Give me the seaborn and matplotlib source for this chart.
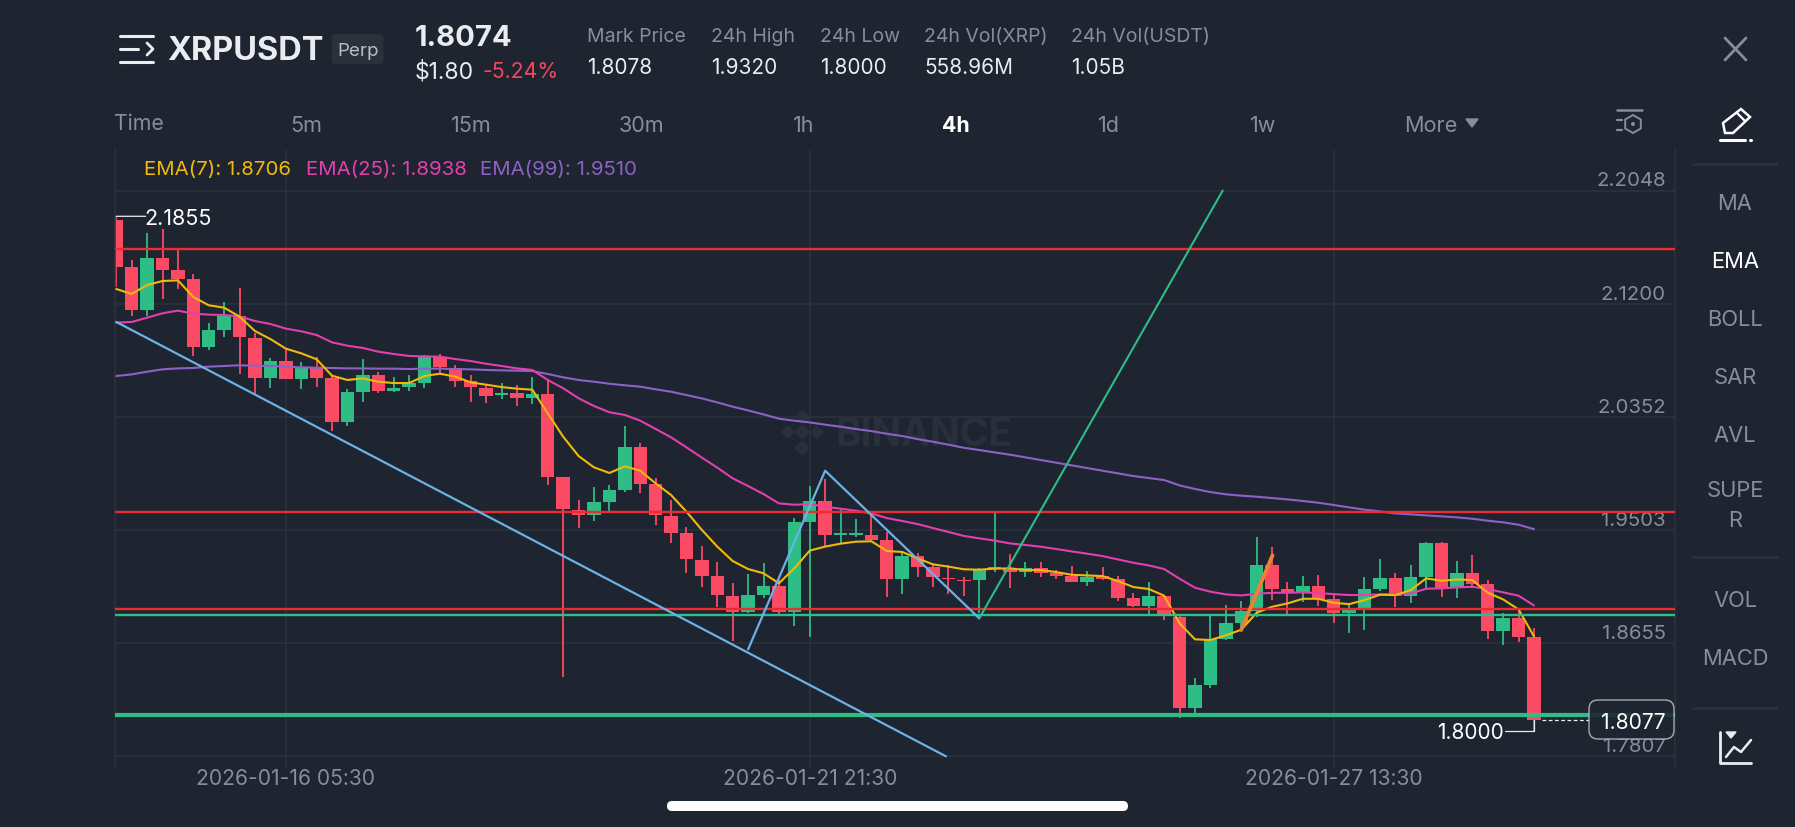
import pandas as pd
import matplotlib
matplotlib.use("Agg")
import matplotlib.pyplot as plt
import seaborn as sns
from matplotlib.lines import Line2D
from matplotlib.patches import FancyBboxPatch, Polygon, Circle, RegularPolygon
from matplotlib.transforms import Affine2D, blended_transform_factory

W, H = 1795, 828

# candle values
opens = [2.1827, 2.1475, 2.1150, 2.1545, 2.1452, 2.1382, 2.0873, 2.1000, 2.1105, 2.0945,
         2.0643, 2.0770, 2.0636, 2.0725, 2.0641, 2.0311, 2.0541, 2.0665, 2.0548, 2.0573,
         2.0608, 2.0798, 2.0718, 2.0618, 2.0570, 2.0513, 2.0533, 2.0496, 2.0526, 1.9901,
         1.9654, 1.9619, 1.9716, 1.9803, 2.0123, 1.9848, 1.9611, 1.9479, 1.9279, 1.9161,
         1.9009, 1.8891, 1.9016, 1.9084, 1.8891, 1.9566, 1.9723, 1.9466, 1.9466, 1.9466,
         1.9426, 1.9134, 1.9311, 1.9224, 1.9146, 1.9129, 1.9129, 1.9214, 1.9221, 1.9188,
         1.9218, 1.9178, 1.9158, 1.9116, 1.9161, 1.9133, 1.8993, 1.8936, 1.9008, 1.8853,
         1.8166, 1.8341, 1.8684, 1.8804, 1.8898, 1.9243, 1.9063, 1.9041, 1.9083, 1.8983,
         1.8878, 1.8918, 1.9061, 1.9146, 1.9008, 1.9148, 1.9406, 1.9078, 1.9183, 1.9101,
         1.8746, 1.8843, 1.8698]
closes = [2.1477, 2.1150, 2.1545, 2.1452, 2.1385, 2.0875, 2.1000, 2.1105, 2.0950, 2.0643,
          2.0770, 2.0636, 2.0725, 2.0643, 2.0311, 2.0536, 2.0663, 2.0548, 2.0568, 2.0603,
          2.0798, 2.0723, 2.0623, 2.0573, 2.0510, 2.0533, 2.0496, 2.0525, 1.9903, 1.9659,
          1.9619, 1.9713, 1.9801, 2.0123, 1.9851, 1.9616, 1.9484, 1.9284, 1.9161, 1.9014,
          1.8891, 1.9014, 1.9084, 1.8891, 1.9566, 1.9721, 1.9466, 1.9479, 1.9479, 1.9429,
          1.9134, 1.9311, 1.9224, 1.9151, 1.9136, 1.9119, 1.9204, 1.9224, 1.9188, 1.9221,
          1.9178, 1.9158, 1.9116, 1.9151, 1.9133, 1.8993, 1.8936, 1.9008, 1.8868, 1.8166,
          1.8339, 1.8684, 1.8804, 1.8898, 1.9243, 1.9063, 1.9041, 1.9083, 1.8983, 1.8878,
          1.8916, 1.9061, 1.9143, 1.9011, 1.9151, 1.9406, 1.9066, 1.9183, 1.9098, 1.8746,
          1.8843, 1.8701, 1.8079]
highs = [2.1855, 2.1527, 2.1727, 2.1757, 2.1612, 2.1422, 2.1053, 2.1215, 2.1315, 2.0983,
         2.0793, 2.0860, 2.0763, 2.0798, 2.0665, 2.0558, 2.0785, 2.0688, 2.0648, 2.0663,
         2.0818, 2.0823, 2.0740, 2.0665, 2.0588, 2.0603, 2.0593, 2.0650, 2.0633, 1.9903,
         1.9729, 1.9828, 1.9841, 2.0286, 2.0158, 1.9896, 1.9729, 1.9526, 1.9386, 1.9266,
         1.9104, 1.9174, 1.9256, 1.9129, 1.9596, 1.9833, 1.9886, 1.9654, 1.9586, 1.9616,
         1.9491, 1.9329, 1.9329, 1.9249, 1.9241, 1.9149, 1.9221, 1.9646, 1.9323, 1.9261,
         1.9266, 1.9203, 1.9233, 1.9198, 1.9223, 1.9158, 1.9028, 1.9111, 1.9016, 1.8868,
         1.8394, 1.8873, 1.8938, 1.8971, 1.9453, 1.9376, 1.9116, 1.9158, 1.9166, 1.9016,
         1.8941, 1.9151, 1.9283, 1.9181, 1.9238, 1.9416, 1.9413, 1.9271, 1.9316, 1.9128,
         1.8881, 1.8903, 1.8766]
lows = [2.1327, 2.1110, 2.1110, 2.1235, 2.1307, 2.0807, 2.0853, 2.0948, 2.0671, 2.0521,
        2.0565, 2.0636, 2.0563, 2.0573, 2.0248, 2.0281, 2.0466, 2.0528, 2.0538, 2.0543,
        2.0568, 2.0678, 2.0578, 2.0466, 2.0458, 2.0488, 2.0433, 2.0448, 1.9841, 1.8404,
        1.9516, 1.9574, 1.9641, 1.9791, 1.9783, 1.9541, 1.9404, 1.9184, 1.9074, 1.8929,
        1.8674, 1.8879, 1.8994, 1.8866, 1.8786, 1.8699, 1.9379, 1.9409, 1.9454, 1.9421,
        1.8999, 1.9024, 1.9149, 1.9079, 1.9021, 1.9009, 1.8879, 1.9191, 1.9066, 1.9148,
        1.9153, 1.9133, 1.9116, 1.9086, 1.9128, 1.8971, 1.8926, 1.8859, 1.8826, 1.8094,
        1.8129, 1.8316, 1.8679, 1.8754, 1.8853, 1.8978, 1.8873, 1.8966, 1.8933, 1.8803,
        1.8729, 1.8754, 1.9046, 1.8928, 1.8953, 1.9066, 1.8998, 1.8991, 1.9066, 1.8686,
        1.8641, 1.8661, 1.8000]

ema7 = [2.1310, 2.1273, 2.1340, 2.1370, 2.1375, 2.1250, 2.1188, 2.1170, 2.1103, 2.0995,
        2.0935, 2.0863, 2.0828, 2.0783, 2.0660, 2.0628, 2.0640, 2.0615, 2.0605, 2.0605,
        2.0658, 2.0675, 2.0653, 2.0610, 2.0593, 2.0575, 2.0563, 2.0555, 2.0378, 2.0203,
        2.0058, 1.9973, 1.9931, 1.9981, 1.9948, 1.9853, 1.9766, 1.9641, 1.9504, 1.9379,
        1.9271, 1.9211, 1.9179, 1.9104, 1.9216, 1.9349, 1.9379, 1.9401, 1.9416, 1.9419,
        1.9346, 1.9339, 1.9291, 1.9246, 1.9229, 1.9209, 1.9206, 1.9214, 1.9216, 1.9203,
        1.9203, 1.9188, 1.9168, 1.9163, 1.9158, 1.9121, 1.9076, 1.9061, 1.9011, 1.8804,
        1.8684, 1.8679, 1.8714, 1.8756, 1.8883, 1.8928, 1.8953, 1.8988, 1.8988, 1.8958,
        1.8948, 1.8978, 1.9018, 1.9016, 1.9053, 1.9141, 1.9123, 1.9133, 1.9128, 1.9033,
        1.8983, 1.8908, 1.8706]
ema25 = [2.1058, 2.1063, 2.1095, 2.1128, 2.1148, 2.1125, 2.1118, 2.1115, 2.1105, 2.1070,
         2.1048, 2.1013, 2.0993, 2.0965, 2.0910, 2.0885, 2.0868, 2.0840, 2.0823, 2.0808,
         2.0805, 2.0803, 2.0785, 2.0770, 2.0750, 2.0733, 2.0715, 2.0703, 2.0628, 2.0566,
         2.0491, 2.0433, 2.0386, 2.0366, 2.0323, 2.0261, 2.0198, 2.0123, 2.0046, 1.9971,
         1.9891, 1.9833, 1.9773, 1.9703, 1.9693, 1.9698, 1.9678, 1.9663, 1.9648, 1.9628,
         1.9593, 1.9571, 1.9548, 1.9518, 1.9489, 1.9459, 1.9441, 1.9424, 1.9403, 1.9391,
         1.9378, 1.9361, 1.9343, 1.9326, 1.9308, 1.9283, 1.9258, 1.9238, 1.9211, 1.9138,
         1.9071, 1.9041, 1.9021, 1.9013, 1.9026, 1.9033, 1.9033, 1.9036, 1.9031, 1.9023,
         1.9016, 1.9016, 1.9021, 1.9023, 1.9028, 1.9063, 1.9066, 1.9073, 1.9078, 1.9061,
         1.9036, 1.9011, 1.8938]
ema99 = [2.0658, 2.0670, 2.0690, 2.0708, 2.0715, 2.0718, 2.0728, 2.0733, 2.0738, 2.0735,
         2.0733, 2.0728, 2.0723, 2.0720, 2.0718, 2.0715, 2.0715, 2.0713, 2.0713, 2.0710,
         2.0713, 2.0713, 2.0710, 2.0708, 2.0703, 2.0700, 2.0698, 2.0695, 2.0673, 2.0648,
         2.0628, 2.0615, 2.0600, 2.0588, 2.0578, 2.0558, 2.0540, 2.0515, 2.0490, 2.0460,
         2.0428, 2.0400, 2.0370, 2.0338, 2.0323, 2.0310, 2.0293, 2.0278, 2.0260, 2.0245,
         2.0225, 2.0208, 2.0185, 2.0165, 2.0143, 2.0120, 2.0103, 2.0085, 2.0068, 2.0048,
         2.0028, 2.0008, 1.9988, 1.9968, 1.9948, 1.9928, 1.9908, 1.9893, 1.9878, 1.9838,
         1.9811, 1.9788, 1.9771, 1.9761, 1.9753, 1.9743, 1.9733, 1.9721, 1.9708, 1.9691,
         1.9673, 1.9656, 1.9643, 1.9628, 1.9621, 1.9613, 1.9606, 1.9598, 1.9588, 1.9573,
         1.9561, 1.9543, 1.9510]

price_ticks = [2.2048, 2.1200, 2.0352, 1.9503, 1.8655, 1.7807]
price_labels = ["2.2048", "2.1200", "2.0352", "1.9503", "1.8655", "1.7807"]
time_ticks = [11, 45, 79]
time_labels = ["2026-01-16 05:30", "2026-01-21 21:30", "2026-01-27 13:30"]

# levels and trend lines somebody drew on the chart
red_levels = [2.1612, 1.9636, 1.8909]
green_level = 1.8864
green_level_thick = 1.8119
blue_long_x, blue_long_y = [0, 53.84], [2.1063, 1.7807]
blue_zig_x, blue_zig_y = [41, 46, 56], [1.8609, 1.9948, 1.8841]
green_trend_x, green_trend_y = [56, 71.8], [1.8841, 2.2048]
orange_x, orange_y = [73, 75.03], [1.8754, 1.9313]

BG = "#1e2530"
GRID = "#2c333e"
GRAY = "#848e9c"
SOFT = "#eaecef"
UP = "#2ebd85"
DOWN = "#fb4a63"
RED_LINE = "#ee2b30"
BLUE = "#6db2e6"

sns.set_theme(style="dark", rc={"axes.facecolor": BG, "figure.facecolor": BG})
plt.rcParams["font.family"] = ["Inter", "DejaVu Sans"]

df = pd.DataFrame({"idx": range(len(opens)), "open": opens, "close": closes, "high": highs, "low": lows,
                   "ema7": ema7, "ema25": ema25, "ema99": ema99})
df["body_low"] = df[["open", "close"]].min(axis=1)
df["body_h"] = (df["open"] - df["close"]).abs()
df["color"] = [UP if c >= o else DOWN for o, c in zip(df["open"], df["close"])]

fig = plt.figure(figsize=(W / 100, H / 100), dpi=100)
ax = fig.add_axes([115 / W, 1 - 770 / H, 1560 / W, 619 / H])
ax.set_xlim(-0.084, 101.15)
ax.set_ylim(1.7712, 2.2352)

# everything outside the plot is placed in screen pixels
ui = Affine2D().scale(1 / W, -1 / H).translate(0, 1) + fig.transFigure


def label(x, y, s, color=GRAY, size=14.7, ha="left", weight="normal"):
    # Inter sits a little high when centred, so push it down
    fig.text(x, y + 2.3, s, color=color, fontsize=size, ha=ha, va="center", fontweight=weight, transform=ui, zorder=20)


def stroke(xs, ys, color=GRAY, lw=1.5, **kw):
    fig.add_artist(Line2D(xs, ys, color=color, lw=lw, transform=ui, solid_capstyle="round", zorder=20, **kw))


# grid
ax.set_yticks(price_ticks)
ax.set_xticks(time_ticks)
ax.set_xticklabels(time_labels, color=GRAY, fontsize=15.1)
ax.set_yticklabels([])
ax.tick_params(axis="both", length=0)
ax.tick_params(axis="x", pad=-1)
ax.grid(True, color=GRID, lw=1.1)
ax.set_axisbelow(True)
for side in ["top", "bottom"]:
    ax.spines[side].set_visible(False)
for side in ["left", "right"]:
    ax.spines[side].set_color(GRID)
    ax.spines[side].set_linewidth(1.1)

# watermark under the candles
wm = "#2a303b"
for cx, cy, r in [(802.5, 433, 7), (788, 433, 6), (817, 433, 6), (802.5, 418, 7), (802.5, 449, 7)]:
    ax.add_patch(Polygon([(cx - r, cy), (cx, cy - r), (cx + r, cy), (cx, cy + r)], closed=True, color=wm,
                         transform=ui, zorder=0.9, clip_on=False))
ax.text(835, 436, "BINANCE", color=wm, fontsize=28, fontweight="bold", va="center", transform=ui, zorder=0.9)

# candles
ax.vlines(df["idx"], df["low"], df["high"], colors=df["color"], lw=1.3, zorder=2)
ax.bar(df["idx"], df["body_h"], bottom=df["body_low"], width=0.87, color=df["color"], zorder=2.1, linewidth=0)

# moving averages
sns.lineplot(data=df, x="idx", y="ema99", ax=ax, color="#8e61c6", lw=1.5, estimator=None, zorder=3)
sns.lineplot(data=df, x="idx", y="ema25", ax=ax, color="#e33fae", lw=1.5, estimator=None, zorder=3.1)
sns.lineplot(data=df, x="idx", y="ema7", ax=ax, color="#f0b90b", lw=1.5, estimator=None, zorder=3.2)
ax.set_xlabel("")
ax.set_ylabel("")

# drawn levels
for level in red_levels:
    ax.axhline(level, color=RED_LINE, lw=1.7, zorder=4)
ax.axhline(green_level, color=UP, lw=1.7, zorder=4)
ax.axhline(green_level_thick, color=UP, lw=3.0, zorder=4)
ax.plot(blue_long_x, blue_long_y, color=BLUE, lw=1.6, zorder=4)
ax.plot(blue_zig_x, blue_zig_y, color=BLUE, lw=1.6, zorder=4)
ax.plot(green_trend_x, green_trend_y, color=UP, lw=1.5, zorder=4)
ax.plot(orange_x, orange_y, color="#ee7f33", lw=2.8, zorder=4.5)

# price labels sit just above their gridline
side_tr = blended_transform_factory(ax.transAxes, ax.transData)
for value, text in zip(price_ticks, price_labels):
    ax.annotate(text, xy=(1, value), xycoords=side_tr, xytext=(-6.5, 0.8), textcoords="offset points",
                color=GRAY, fontsize=14.7, ha="right", va="bottom")

# high and low markers
ax.annotate("", xy=(0, highs[0]), xytext=(1.9, highs[0]),
            arrowprops=dict(arrowstyle="-", color=SOFT, lw=0.9, shrinkA=0, shrinkB=0), zorder=5)
ax.text(1.85, highs[0] - 0.0012, "2.1855", color="white", fontsize=15.5, va="center", zorder=5)
ax.plot([90.1, 92, 92], [lows[92], lows[92], closes[92]], color=SOFT, lw=0.9, zorder=5)
ax.text(90.05, lows[92] - 0.0012, "1.8000", color="white", fontsize=15.0, va="center", ha="right", zorder=5)
ax.plot([92.5, 95.55], [closes[92], closes[92]], color=SOFT, lw=0.9, ls=(0, (3, 2)), zorder=5)

# last price box
fig.add_artist(FancyBboxPatch((1589, 701), 85, 39, boxstyle="round,pad=0,rounding_size=9", fc=BG, ec="#b7bdc6",
                              lw=1.0, alpha=0.88, transform=ui, zorder=18))
label(1665.5, 721, "1.8077", color="white", ha="right", size=15.2)

# EMA legend
label(144.5, 168, "EMA(7): 1.8706", color="#f0b90b")
label(306, 168, "EMA(25): 1.8938", color="#e33fae")
label(480, 168, "EMA(99): 1.9510", color="#8e61c6")

# header
stroke([120, 153], [37, 37], SOFT, 2.2)
stroke([120, 138], [50, 50], SOFT, 2.2)
stroke([147, 153, 147], [44, 50, 56], SOFT, 2.0)
stroke([120, 153], [63, 63], SOFT, 2.2)
label(167, 49.5, "XRPUSDT", color=SOFT, size=23.4, weight="bold")
fig.add_artist(FancyBboxPatch((332, 35), 51.5, 30, boxstyle="round,pad=0,rounding_size=4", fc="#2b3139", ec="none",
                              transform=ui, zorder=18))
label(357.7, 49, "Perp", color="#b7bdc6", size=13.5, ha="center")
label(415, 36, "1.8074", color=SOFT, size=21, weight="bold")
label(414.5, 69.5, "$1.80", color=SOFT, size=16.5)
label(482, 69.5, "-5.24%", color="#f6465d", size=15.3)

stat_x = [587, 711, 820.5, 924.5, 1071]
stat_names = ["Mark Price", "24h High", "24h Low", "24h Vol(XRP)", "24h Vol(USDT)"]
stat_values = ["1.8078", "1.9320", "1.8000", "558.96M", "1.05B"]
for x, name, value in zip(stat_x, stat_names, stat_values):
    label(x, 35, name, size=14)
    label(x, 66, value, color=SOFT, size=15)

# interval tabs
label(114, 121.5, "Time", size=15.3)
tab_x = [306, 471.5, 642, 804, 956, 1109, 1263]
tab_names = ["5m", "15m", "30m", "1h", "4h", "1d", "1w"]
for x, name in zip(tab_x, tab_names):
    if name == "4h":
        label(x, 124, name, color="white", ha="center", weight="bold", size=15.3)
    else:
        label(x, 124, name, ha="center", size=15.5)
label(1404, 124, "More", size=15.6)
fig.add_artist(Polygon([(1466, 120), (1478, 120), (1472, 128)], closed=True, color=GRAY, transform=ui, zorder=20))

# settings icon
stroke([1617, 1642], [111, 111], GRAY, 1.8)
stroke([1617, 1622], [121, 121], GRAY, 1.6)
stroke([1617, 1622], [131, 131], GRAY, 1.6)
fig.add_artist(RegularPolygon((1633, 125), 6, radius=9, fc="none", ec=GRAY, lw=1.4, transform=ui, zorder=20))
fig.add_artist(Circle((1633, 125), 2, fc=GRAY, ec="none", transform=ui, zorder=20))

# close button
stroke([1725, 1746], [39, 61], GRAY, 2.0)
stroke([1746, 1725], [39, 61], GRAY, 2.0)

# pencil
fig.add_artist(Polygon([(1725, 134), (1723, 124), (1741, 110), (1750, 118), (1733, 134)], closed=True, fc="none",
                       ec="white", lw=1.8, transform=ui, zorder=20))
stroke([1737, 1745], [114, 122], "white", 1.6)
stroke([1720, 1745], [141, 141], "white", 2.2)
stroke([1749.5, 1750.5], [141, 141], "white", 2.2)

# indicator menu
stroke([1693, 1777], [164.7, 164.7], "#2c333e", 2.0)
stroke([1693, 1777], [557.6, 557.6], "#2c333e", 2.0)
stroke([1693, 1777], [709.4, 709.4], "#2c333e", 2.0)
menu_y = [202, 260, 317.5, 375.5, 433.5, 489, 519, 599, 657]
menu_names = ["MA", "EMA", "BOLL", "SAR", "AVL", "SUPE", "R", "VOL", "MACD"]
for y, name in zip(menu_y, menu_names):
    label(1735, y, name, color="white" if name == "EMA" else GRAY, ha="center", size=15.8)

# chart icon
stroke([1720, 1720, 1751], [733, 764, 764], SOFT, 2.0)
stroke([1726, 1734, 1741, 1751], [758, 748, 753, 741], SOFT, 1.8)
fig.add_artist(Polygon([(1726, 733), (1736, 733), (1731, 739)], closed=True, color=SOFT, transform=ui, zorder=20))

# home indicator
fig.add_artist(FancyBboxPatch((667, 802), 461, 10, boxstyle="round,pad=0,rounding_size=5", fc="white", ec="none",
                              transform=ui, zorder=20))

fig.savefig("out.png", dpi=100, facecolor=BG)
